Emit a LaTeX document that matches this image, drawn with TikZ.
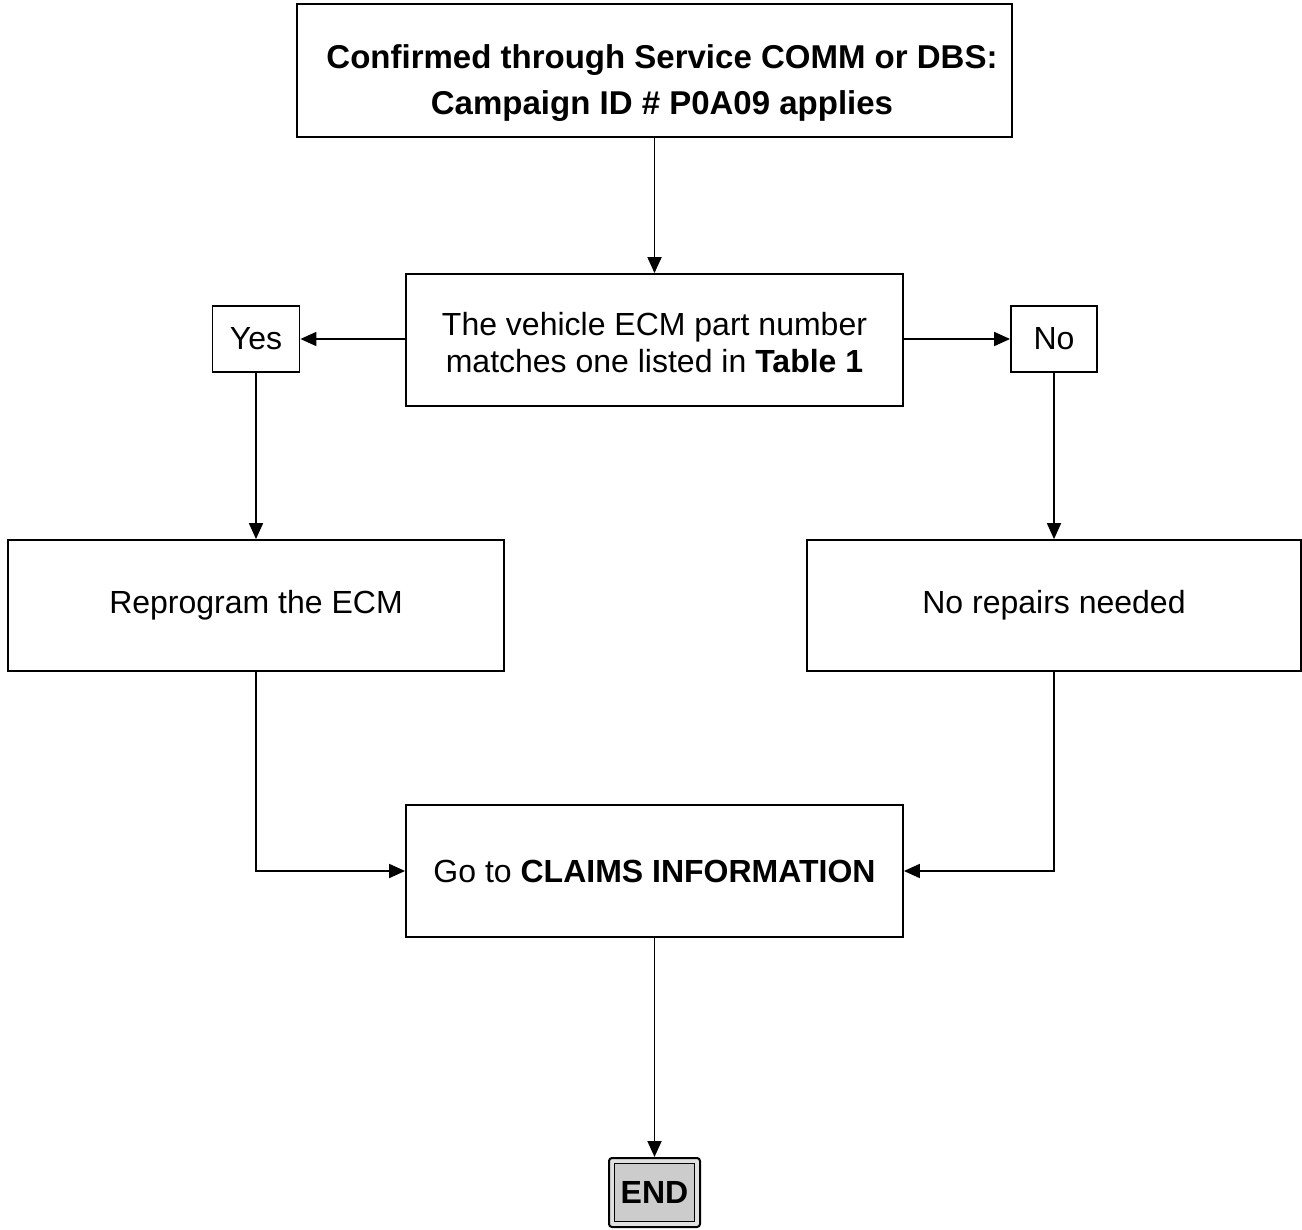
\documentclass[tikz,border=0pt]{standalone}
\usepackage{fontspec}
\setmainfont{Liberation Sans}
\usetikzlibrary{arrows.meta}
\begin{document}
\begin{tikzpicture}[x=1pt,y=-1pt,
  box/.style={draw,line width=1.8pt,inner sep=0pt,align=center,font=\fontsize{32}{37}\selectfont},
  arr/.style={line width=1.8pt,-{Triangle[length=16pt,width=14pt]}}]
\useasboundingbox (0,0) rectangle (1302,1230);
\node[box,minimum width=715pt,minimum height=133pt] (top) at (654.5,70.5) {};
\node[align=center,inner sep=0pt,font=\fontsize{33}{46}\selectfont\bfseries] (toptext) at (662,83)
  {Confirmed through Service COMM or DBS:\\Campaign ID \# P0A09 applies};
\node[box,minimum width=497pt,minimum height=132pt] (ecm) at (654.5,340) {};
\node[align=center,inner sep=0pt,font=\fontsize{32}{37}\selectfont] (ecmtext) at (654.5,343)
  {The vehicle ECM part number\\matches one listed in \textbf{Table 1}};
\node[box,minimum width=87pt,minimum height=66pt] (yes) at (256,339) {Yes};
\node[box,minimum width=86pt,minimum height=66pt] (no) at (1054,339) {No};
\node[box,minimum width=496pt,minimum height=131pt] (rep) at (256,605.5) {Reprogram the ECM};
\node[box,minimum width=494pt,minimum height=131pt] (nor) at (1054,605.5) {No repairs needed};
\node[box,minimum width=497pt,minimum height=132pt] (claims) at (654.5,871) {Go to \textbf{CLAIMS INFORMATION}};
\node[draw,line width=2pt,rounded corners=3pt,fill=black!12,minimum width=91pt,minimum height=69pt,inner sep=0pt] (endo) at (654.5,1192.5) {};
\node[draw,line width=1pt,fill=black!20,minimum width=80pt,minimum height=58pt,inner sep=0pt,font=\fontsize{32}{37}\selectfont\bfseries] (end) at (654.5,1192.5) {END};
\draw[arr] (top.south) -- (ecm.north);
\draw[arr] (ecm.west |- yes.east) -- (yes.east);
\draw[arr] (ecm.east |- no.west) -- (no.west);
\draw[arr] (yes.south) -- (rep.north);
\draw[arr] (no.south) -- (nor.north);
\draw[arr] (rep.south) |- (claims.west);
\draw[arr] (nor.south) |- (claims.east);
\draw[arr] (claims.south) -- (endo.north);
\end{tikzpicture}
\end{document}
